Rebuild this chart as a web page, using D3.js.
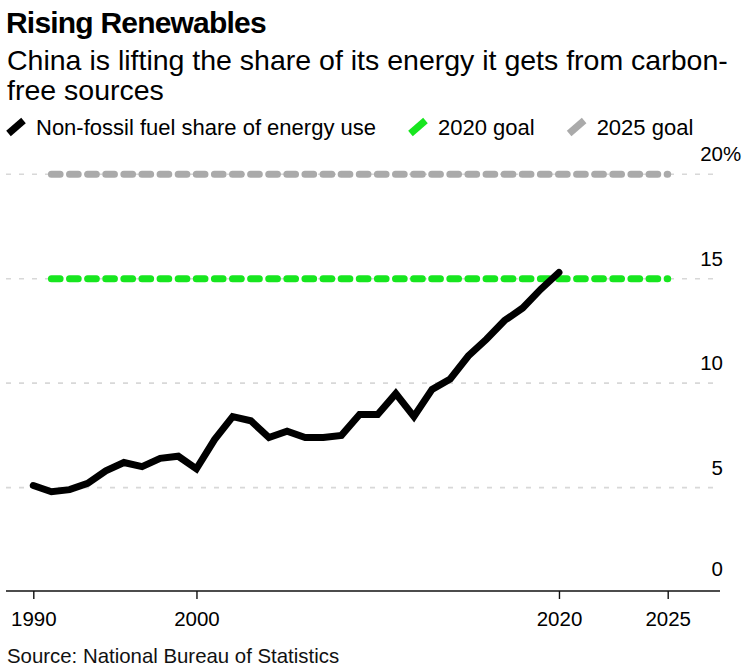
<!DOCTYPE html>
<html><head><meta charset="utf-8">
<script src="https://cdn.jsdelivr.net/npm/d3@7"></script>
<style>
body{margin:0;background:#fff;}
svg text{font-family:"Liberation Sans", Arial, sans-serif;}
</style></head>
<body>
<svg id="chart" width="745" height="672"></svg>
<script>
// ---- data ----
const years = [1990,1991,1992,1993,1994,1995,1996,1997,1998,1999,2000,2001,2002,2003,2004,2005,2006,2007,2008,2009,2010,2011,2012,2013,2014,2015,2016,2017,2018,2019];
const shareValues = [5.1,4.8,4.9,5.2,5.8,6.2,6.0,6.4,6.5,5.9,7.3,8.4,8.2,7.4,7.7,7.4,7.4,7.5,8.5,8.5,9.5,8.4,9.7,10.2,11.3,12.1,13.0,13.6,14.5,15.3];
const goalYears = [1991, 2025];
const goal2020Value = 15;
const goal2025Value = 20;
const yTickValues = [0,5,10,15,20];
const xTickLabels = ["1990","2000","2020","2025"];
const legendLabels = ["Non-fossil fuel share of energy use","2020 goal","2025 goal"];
const seriesColors = ["#000000","#17e61f","#aaaaaa"];
const titleText = "Rising Renewables";
const subtitleLines = ["China is lifting the share of its energy it gets from carbon-","free sources"];
const sourceText = "Source: National Bureau of Statistics";

// ---- scales ----
const yearEnd = yr => new Date(yr, 11, 31);
const yearStart = yr => new Date(yr, 0, 1);
const x = d3.scaleTime().domain([yearEnd(1990), yearEnd(2025)]).range([33.3, 667.7]);
const y = d3.scaleLinear().domain([0, 20]).range([592, 174.3]);

const svg = d3.select("#chart");

// title & subtitle
svg.append("text").attr("x", 6).attr("y", 33)
  .attr("font-size", 30).attr("font-weight", "bold").attr("letter-spacing", -0.8)
  .attr("fill", "#000").text(titleText);
svg.append("g").selectAll("text").data(subtitleLines).join("text")
  .attr("x", 7).attr("y", (d,i) => 70 + i*30)
  .attr("font-size", 28.5).attr("fill", "#000").text(d => d);

// legend
const legend = svg.append("g").attr("transform", "translate(0,135)");
let lx = 7;
legendLabels.forEach((lab, i) => {
  const g = legend.append("g").attr("transform", `translate(${lx},0)`);
  g.append("line").attr("x1", 1.5).attr("y1", -1.5).attr("x2", 16.5).attr("y2", -14.5)
    .attr("stroke", seriesColors[i]).attr("stroke-width", 7).attr("stroke-linecap", "butt");
  const t = g.append("text").attr("x", 29).attr("y", 0).attr("font-size", 22).attr("fill", "#000").text(lab);
  const w = t.node().getComputedTextLength();
  lx += 29 + w + 33;
});

// gridlines
svg.append("g").selectAll("line").data(yTickValues.filter(v => v > 0)).join("line")
  .attr("x1", 6).attr("x2", 714)
  .attr("y1", d => y(d)).attr("y2", d => y(d))
  .attr("stroke", "#d8d8d8").attr("stroke-width", 1.6).attr("stroke-dasharray", "5 8");

// y labels
const yl = svg.append("g");
yl.selectAll("text").data(yTickValues).join("text")
  .attr("x", 723).attr("y", d => y(d) - (d === 0 ? 16 : 13))
  .attr("text-anchor", "end").attr("font-size", 20.5).attr("fill", "#000")
  .text(d => d);
yl.append("text").attr("x", 723).attr("y", y(20) - 13).attr("font-size", 20.5).attr("fill", "#000").text("%");

// goal lines
const period = (x(yearEnd(1992)) - x(yearEnd(1991))) * 0.997;
const goalLine = d3.line().x(d => x(yearEnd(d[0]))).y(d => y(d[1]));
[[goal2025Value, seriesColors[2]], [goal2020Value, seriesColors[1]]].forEach(([v, c]) => {
  svg.append("path").datum(goalYears.map(yr => [yr, v]))
    .attr("d", goalLine).attr("fill", "none").attr("stroke", c)
    .attr("stroke-width", 7).attr("stroke-linecap", "round")
    .attr("stroke-dasharray", `${(period*0.48).toFixed(2)} ${(period*0.52).toFixed(2)}`);
});

// data line
const line = d3.line().x((d,i) => x(yearEnd(years[i]))).y(d => y(d));
svg.append("path").datum(shareValues).attr("d", line)
  .attr("fill", "none").attr("stroke", seriesColors[0]).attr("stroke-width", 7)
  .attr("stroke-linecap", "round").attr("stroke-linejoin", "miter");

// x axis
const tickDates = xTickLabels.map((l, i) => (i === 0 || i === xTickLabels.length - 1) ? yearEnd(+l) : yearStart(+l));
svg.append("line").attr("x1", 6).attr("x2", 720).attr("y1", y(0) - 1).attr("y2", y(0) - 1)
  .attr("stroke", "#111").attr("stroke-width", 1.6);
const ax = svg.append("g").attr("transform", `translate(0,${y(0) - 1})`)
  .call(d3.axisBottom(x).tickValues(tickDates).tickFormat((d,i) => xTickLabels[i]).tickSize(8).tickSizeOuter(0).tickPadding(12));
ax.select(".domain").remove();
ax.selectAll(".tick line").attr("stroke", "#111").attr("stroke-width", 1.4);
ax.selectAll(".tick text").attr("font-size", 20.5).attr("fill", "#000")
  .attr("font-family", "Liberation Sans, Arial, sans-serif");

// source
svg.append("text").attr("x", 7).attr("y", 663).attr("font-size", 20.4).attr("fill", "#111").text(sourceText);
</script>
</body></html>
